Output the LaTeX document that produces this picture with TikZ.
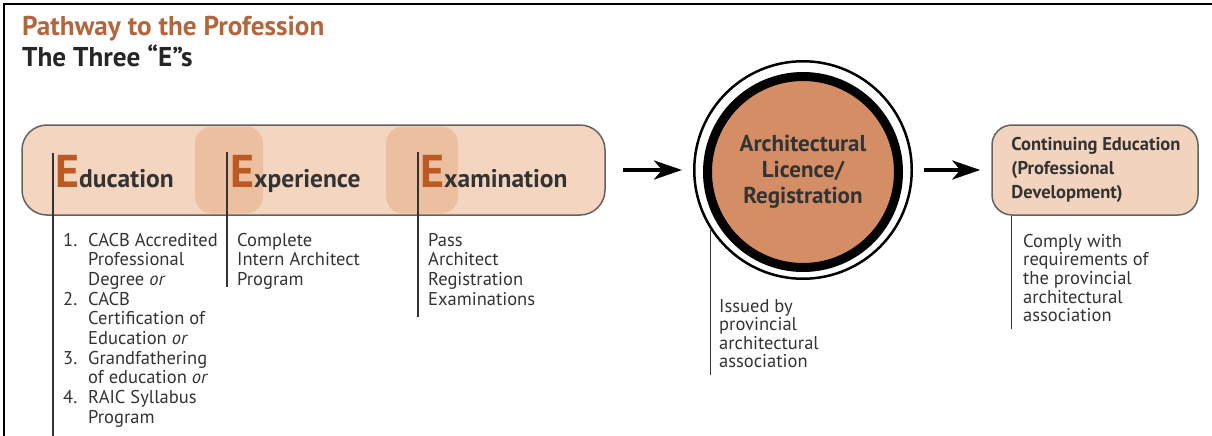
\documentclass[tikz,border=0pt]{standalone}
\usepackage{fontspec}
\setmainfont{PT Sans}
\usetikzlibrary{positioning,arrows.meta}

\definecolor{titlebrown}{HTML}{B5653C}
\definecolor{ecolor}{HTML}{BC5A24}
\definecolor{boxpeach}{HTML}{F4D6C0}
\definecolor{hilitecol}{HTML}{EBBF9F}
\definecolor{contpeach}{HTML}{F2D3BD}
\definecolor{licbrown}{HTML}{D48D64}
\definecolor{boxedge}{HTML}{626262}
\definecolor{txtgray}{HTML}{333333}

\newcommand{\bigE}{{\color{ecolor}\fontsize{46}{46}\selectfont E}}
\newcommand{\notelines}[1]{\begin{tabular}[t]{@{}l@{}}#1\end{tabular}}

\tikzset{
  stage/.style={anchor=base west, inner sep=0pt, text=txtgray,
    font=\fontsize{25.5}{25.5}\selectfont\bfseries},
  hilite/.style={fill=hilitecol, rounded corners=17pt, minimum width=68pt,
    minimum height=87pt, inner sep=0pt},
  leader/.style={draw=txtgray, line width=1.1pt},
  note/.style={anchor=base west, inner sep=0pt, text=txtgray,
    font=\fontsize{18.5}{19.7}\selectfont},
  flow/.style={line width=4pt, -{Stealth[length=28pt,width=19pt,inset=8pt]}},
}

\begin{document}
\begin{tikzpicture}[x=1pt,y=-1pt]
  \useasboundingbox (0,0) rectangle (1212,436);
  \draw[line width=2.5pt] (4,436) -- (4,4) -- (1212,4);

  % heading
  \node[anchor=base west, inner sep=0pt, text=titlebrown,
    font=\fontsize{27.2}{27.2}\selectfont\bfseries] (title) at (22,36)
    {Pathway to the Profession};
  \node[anchor=base west, inner sep=0pt, text=black!85,
    font=\fontsize{27.2}{27.2}\selectfont\bfseries] (subtitle) at (22,66.5)
    {The Three “E”s};

  % the three E's
  \node[fill=boxpeach, draw=boxedge, line width=1.5pt, rounded corners=25pt,
    minimum width=583pt, minimum height=90pt] (pathbox) at (313.5,170) {};
  \node[hilite] (exp hl) at (229,170) {};
  \node[hilite, minimum width=72pt] (exam hl) at (422,170) {};

  \node[stage] (edu) at (55,187) {\bigE ducation};
  \node[stage] (exp) at (230,187) {\bigE xperience};
  \node[stage] (exam) at (420,187) {\bigE xamination};

  \coordinate (edu top) at (53,153);
  \coordinate (edu end) at (53,436);
  \coordinate (exp top) at (227,152);
  \coordinate (exp end) at (227,287);
  \coordinate (exam top) at (418,152);
  \coordinate (exam end) at (418,317);
  \draw[leader] (edu top) -- (edu end);
  \draw[leader] (exp top) -- (exp end);
  \draw[leader] (exam top) -- (exam end);

  \node[note] (edu list) at (63,246) {\begin{tabular}[t]{@{}l@{\hspace{11pt}}l@{}}
    1. & CACB Accredited\\
       & Professional\\
       & Degree \textit{or}\\
    2. & CACB\\
       & Certification of\\
       & Education \textit{or}\\
    3. & Grandfathering\\
       & of education \textit{or}\\
    4. & RAIC Syllabus\\
       & Program
  \end{tabular}};
  \node[note] (exp list) at (237,246)
    {\notelines{Complete\\Intern Architect\\Program}};
  \node[note] (exam list) at (428,246)
    {\notelines{Pass\\Architect\\Registration\\Examinations}};

  % licence
  \node[circle, draw, line width=2.5pt, minimum size=217.5pt] (ring) at (803,170) {};
  \node[circle, fill=licbrown, draw=black, line width=9pt, minimum size=191pt,
    align=center, text=txtgray, font=\fontsize{23}{26}\selectfont\bfseries]
    (licence) at ([yshift=-2pt]ring) {Architectural\\Licence/\\Registration};
  \coordinate (lic end) at (711,375);
  \draw[leader] (ring.213) -- (ring.213 |- lic end);
  \node[note, font=\fontsize{18.5}{18.4}\selectfont] (issued) at (719,312)
    {\notelines{Issued by\\provincial\\architectural\\association}};

  % continuing education
  \node[fill=contpeach, draw=boxedge, line width=1.5pt, rounded corners=20pt,
    minimum width=206pt, minimum height=90pt] (cont) at (1095,170) {};
  \node[anchor=west, inner sep=0pt, align=left, text=txtgray,
    font=\fontsize{18.5}{24}\selectfont\bfseries] (cont text)
    at ([xshift=20pt]cont.west) {Continuing Education\\(Professional\\Development)};
  \draw[leader] ([xshift=20pt]cont.south west) -- ++(0,113);
  \node[note, font=\fontsize{18.5}{18.7}\selectfont] (comply) at (1023,247)
    {\notelines{Comply with\\requirements of\\the provincial\\architectural\\association}};

  % arrows
  \draw[flow, shorten <=17pt, shorten >=11pt] (pathbox) -- (ring);
  \draw[flow, shorten <=11pt, shorten >=11pt] (ring) -- (cont);
\end{tikzpicture}
\end{document}
